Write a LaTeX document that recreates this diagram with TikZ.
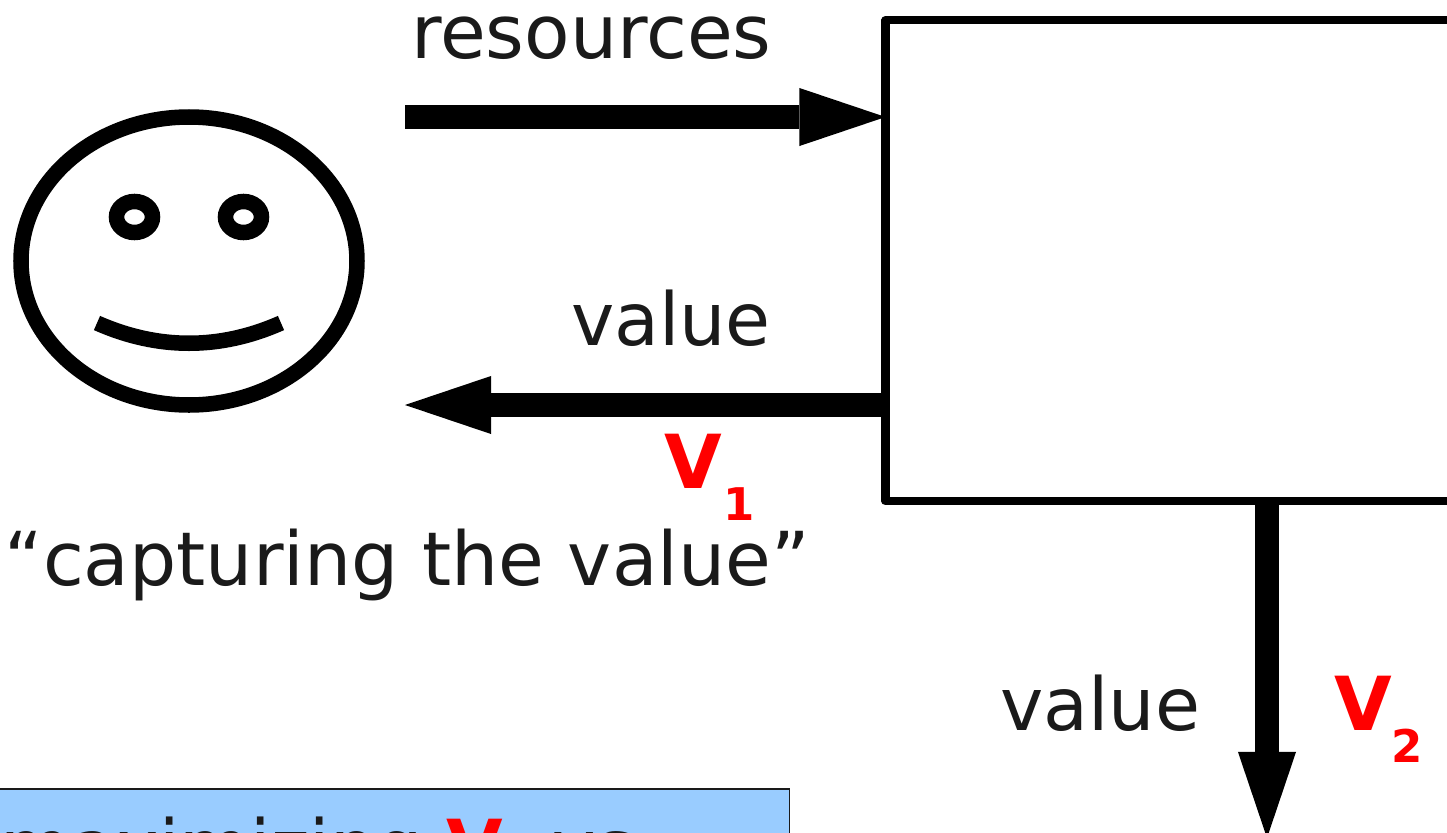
\documentclass[tikz,border=0pt]{standalone}
\usepackage{fontspec}
\setmainfont{DejaVu Sans}
\usetikzlibrary{arrows.meta}
\definecolor{labelgray}{HTML}{1A1A1A}
\definecolor{notefill}{HTML}{99CCFF}
\newcommand{\bigtext}{\fontsize{20.8pt}{25pt}\selectfont}
\newcommand{\widetext}{\fontsize{21.15pt}{25pt}\selectfont}
\newcommand{\symtext}{\fontsize{21.2pt}{25pt}\selectfont\bfseries}
\newcommand{\subtext}{\fontsize{12.8pt}{15pt}\selectfont\bfseries}
\begin{document}
\begin{tikzpicture}[x=0.01cm,y=0.01cm]
      \tikzstyle{every node}+=[inner sep=0pt, outer sep=0pt]
      \tikzstyle{word}=[anchor=base west, text=labelgray, font=\bigtext]
      \tikzstyle{valuesym}=[anchor=base west, text=red, font=\symtext]
      \tikzstyle{valuesub}=[anchor=base west, text=red, font=\subtext]
      \tikzstyle{flow}=[black, line width=0.24cm, -{Triangle[length=0.86cm,width=0.58cm,line width=0pt]}]
      \tikzstyle{face}=[black, line width=0.155cm]
      \clip (0,0) rectangle (1447,-833);
      % agent
      \draw [face] (189,-261) ellipse (168 and 144);
      \draw [face] (134.5,-217) ellipse (18 and 15.5);
      \draw [face] (243.5,-217) ellipse (18 and 15.5);
      \draw [face] (97,-323) .. controls (158,-350) and (220,-350) .. (281,-323);
      % process
      \node (process) [draw=black, line width=0.08cm, line join=round, anchor=north west,
        minimum width=8cm, minimum height=4.81cm] at (885.5,-20) {};
      \coordinate (resstart) at (405,-117);
      \coordinate (backend) at (405,-405);
      \coordinate (downend) at (1267,-838);
      \draw [flow] (resstart) -- (process.west |- resstart);
      \draw [flow] (process.west |- backend) -- (backend);
      \draw [flow] (process.south -| downend) -- (downend);
      % labels
      \node (resources) [word, font=\widetext] at (411,-58) {resources};
      \node (valueback) [word] at (571,-345) {value};
      \node (vone) [valuesym] at (664,-488.5) {V};
      \node (vonesub) [valuesub] at (723,-520.5) {1};
      \node (capture) [word, font=\widetext] at (4.5,-585) {“capturing the value”};
      \node (valuedown) [word] at (1000.5,-730) {value};
      \node (vtwo) [valuesym] at (1334,-730) {V};
      \node (vtwosub) [valuesub] at (1391,-762) {2};
      % note
      \node (note) [draw=labelgray, fill=notefill, line width=0.015cm, anchor=north east,
        minimum width=9cm, minimum height=2cm] at (789.5,-789) {};
      \node (notetext) [word] at (0,-872) {maximizing \textcolor{red}{\bfseries V} \hspace{0.27cm}vs};
\end{tikzpicture}
\end{document}
